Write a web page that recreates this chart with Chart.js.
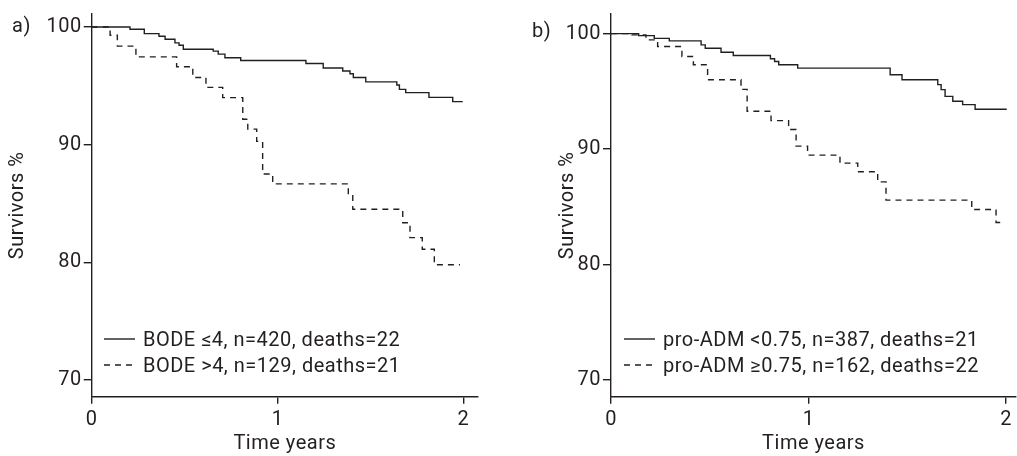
<!DOCTYPE html>
<html>
<head>
<meta charset="utf-8">
<script src="https://cdn.jsdelivr.net/npm/chart.js@4.4.1/dist/chart.umd.min.js"></script>
<style>
  html, body { margin: 0; padding: 0; background: #fff; }
  body { width: 1017px; height: 456px; position: relative; overflow: hidden; font-family: Roboto, "DejaVu Sans", sans-serif; color: #231f20; }
  .pane { position: absolute; top: 0; height: 456px; }
  .panel-label { position: absolute; font-size: 20px; line-height: 20px; letter-spacing: 0.5px; }
  .legend { position: absolute; font-size: 20px; letter-spacing: 0.5px; }
  .legend .row { position: absolute; left: 0; white-space: nowrap; height: 24px; line-height: 24px; }
  .legend svg { position: absolute; left: 0; top: 0; }
  .legend span { position: absolute; top: 0; }
</style>
</head>
<body>
<div class="pane" id="paneA" style="left:0;width:500px;"><canvas id="chartA"></canvas></div>
<div class="pane" id="paneB" style="left:510px;width:507px;"><canvas id="chartB"></canvas></div>
<div class="panel-label" style="left:12px;top:15px;">a)</div>
<div class="panel-label" style="left:532px;top:20px;">b)</div>
<div class="legend" id="legendA" style="left:104px;top:327px;"></div>
<div class="legend" id="legendB" style="left:624px;top:327px;"></div>
<script>
// ---------- Data ----------
const xTicks = [0, 1, 2];
const yTicks = [70, 80, 90, 100];

// Panel a) BODE index
const aLabels = ["BODE \u22644, n=420, deaths=22", "BODE >4, n=129, deaths=21"];
const aSolidT = [0, 0.206, 0.283, 0.362, 0.395, 0.448, 0.470, 0.493, 0.654, 0.681, 0.717, 0.802, 1.153, 1.246, 1.351, 1.390, 1.408, 1.475, 1.642, 1.656, 1.690, 1.815, 1.943, 1.997];
const aSolidS = [100, 99.81, 99.43, 99.21, 98.96, 98.65, 98.45, 98.11, 97.95, 97.69, 97.38, 97.15, 96.90, 96.51, 96.26, 96.03, 95.71, 95.33, 95.07, 94.70, 94.42, 94.02, 93.66, 93.66];
const aDashT = [0, 0.099, 0.138, 0.238, 0.457, 0.544, 0.615, 0.705, 0.813, 0.840, 0.888, 0.920, 0.974, 1.381, 1.405, 1.674, 1.713, 1.779, 1.844, 1.982];
const aDashS = [100, 99.30, 98.37, 97.46, 96.62, 95.71, 94.87, 94.00, 92.16, 91.32, 90.28, 87.51, 86.67, 85.77, 84.51, 83.37, 82.10, 81.12, 79.80, 79.80];

// Panel b) pro-ADM
const bLabels = ["pro-ADM <0.75, n=387, deaths=21", "pro-ADM \u22650.75, n=162, deaths=22"];
const bSolidT = [0, 0.140, 0.219, 0.295, 0.456, 0.477, 0.557, 0.619, 0.807, 0.828, 0.849, 0.945, 1.413, 1.473, 1.654, 1.671, 1.691, 1.730, 1.780, 1.843, 2.003];
const bSolidS = [100, 99.83, 99.59, 99.37, 99.03, 98.73, 98.39, 98.10, 97.82, 97.59, 97.30, 97.01, 96.44, 96.01, 95.58, 95.15, 94.57, 94.14, 93.85, 93.45, 93.45];
const bDashT = [0, 0.106, 0.177, 0.236, 0.359, 0.417, 0.489, 0.658, 0.689, 0.810, 0.899, 0.937, 0.995, 1.159, 1.249, 1.350, 1.392, 1.826, 1.949, 1.990];
const bDashS = [100, 99.89, 99.46, 98.88, 98.02, 97.30, 96.01, 95.17, 93.28, 92.47, 91.70, 90.26, 89.48, 88.79, 88.04, 87.16, 85.58, 84.77, 83.65, 83.65];

// ---------- Styling ----------
const INK = '#231f20';
const FONT = { family: 'Roboto, "DejaVu Sans", sans-serif', size: 20, weight: 'normal' };
const DASH = [6, 5];

function pts(t, s) { return t.map((v, i) => ({ x: v, y: s[i] })); }

const spacingPlugin = {
  id: 'spacing',
  beforeDraw(chart) { chart.ctx.letterSpacing = '0.5px'; }
};

function makeChart(id, cfg) {
  const canvas = document.getElementById(id);
  const pane = canvas.parentElement;
  canvas.width = pane.clientWidth; canvas.height = 456;
  canvas.style.width = pane.clientWidth + 'px'; canvas.style.height = '456px';
  return new Chart(canvas, {
    type: 'line',
    data: {
      datasets: [
        { label: cfg.labels[0], data: pts(cfg.solidT, cfg.solidS), borderColor: INK, borderWidth: 1.4, stepped: true, pointRadius: 0, fill: false },
        { label: cfg.labels[1], data: pts(cfg.dashT, cfg.dashS), borderColor: INK, borderWidth: 1.4, borderDash: DASH, stepped: true, pointRadius: 0, fill: false }
      ]
    },
    plugins: [spacingPlugin],
    options: {
      responsive: false,
      animation: false,
      events: [],
      layout: { padding: { left: cfg.padLeft, right: cfg.padRight, top: 12, bottom: 0 } },
      plugins: { legend: { display: false }, tooltip: { enabled: false } },
      scales: {
        x: {
          type: 'linear', min: 0, max: cfg.xMax,
          afterBuildTicks: s => { s.ticks = xTicks.map(v => ({ value: v })); },
          afterFit: s => { s.height = 59.3; },
          border: { display: true, color: INK, width: 1.4 },
          grid: { display: true, drawOnChartArea: false, drawTicks: true, tickLength: 7, color: INK, lineWidth: 1.4 },
          ticks: { color: INK, font: FONT, padding: 4, maxRotation: 0, autoSkip: false },
          title: { display: true, text: 'Time years', color: INK, font: FONT, padding: { top: 0, bottom: 0 } }
        },
        y: {
          type: 'linear', min: cfg.yMin, max: cfg.yMax,
          afterBuildTicks: s => { s.ticks = yTicks.map(v => ({ value: v })); },
          afterFit: s => { s.width = cfg.yWidth; },
          border: { display: true, color: INK, width: 1.4 },
          grid: { display: true, drawOnChartArea: false, drawTicks: true, tickLength: 8, color: INK, lineWidth: 1.4 },
          ticks: { color: INK, font: FONT, padding: 2, autoSkip: false },
          title: { display: true, text: 'Survivors %', color: INK, font: FONT, padding: { top: 6, bottom: 0 } }
        }
      }
    }
  });
}

function makeLegend(id, labels) {
  const el = document.getElementById(id);
  labels.forEach((lab, i) => {
    const row = document.createElement('div');
    row.className = 'row';
    row.style.top = (i * 25.5) + 'px';
    const dash = i === 1 ? ' stroke-dasharray="6 5"' : '';
    row.innerHTML = '<svg width="31" height="24"><line x1="0" y1="12" x2="31" y2="12" stroke="' + INK + '" stroke-width="1.4"' + dash + '/></svg>' +
      '<span style="left:39px">' + lab.replace(/</g, '&lt;').replace(/>/g, '&gt;') + '</span>';
    el.appendChild(row);
  });
}

makeChart('chartA', { labels: aLabels, solidT: aSolidT, solidS: aSolidS, dashT: aDashT, dashS: aDashS,
  xMax: 2.079, yMin: 68.59, yMax: 101.1, padLeft: 0, padRight: 22, yWidth: 91.7 });
makeChart('chartB', { labels: bLabels, solidT: bSolidT, solidS: bSolidS, dashT: bDashT, dashS: bDashS,
  xMax: 2.05, yMin: 68.56, yMax: 101.7, padLeft: 40, padRight: 1, yWidth: 61 });
makeLegend('legendA', aLabels);
makeLegend('legendB', bLabels);
</script>
</body>
</html>
